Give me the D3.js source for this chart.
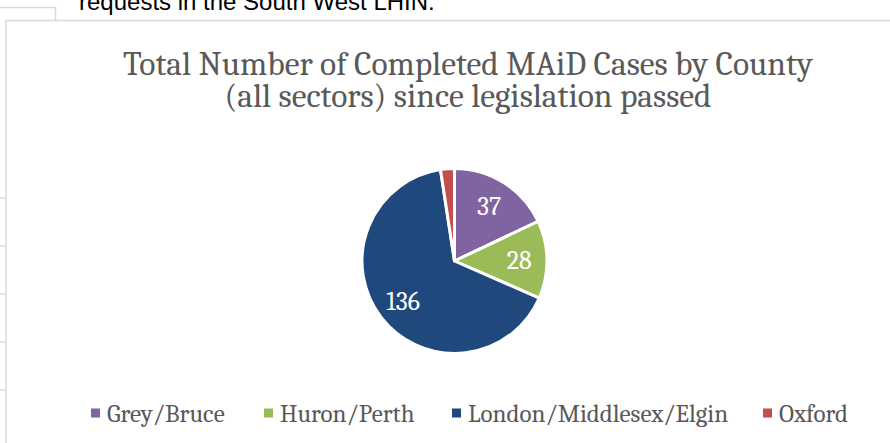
<!DOCTYPE html>
<html>
<head>
<meta charset="utf-8">
<script src="https://cdn.jsdelivr.net/npm/d3@7"></script>
<style>
  html, body { margin: 0; padding: 0; background: #fff; }
  svg { display: block; }
</style>
</head>
<body>
<div id="chart"></div>
<script>
const counties = ["Grey/Bruce", "Huron/Perth", "London/Middlesex/Elgin", "Oxford"];
const cases = [37, 28, 136, 5];
const colours = ["#8064A2", "#9BBB59", "#1F497D", "#C0504D"];
const showLabel = [true, true, true, false];
const titleLines = ["Total Number of Completed MAiD Cases by County", "(all sectors) since legislation passed"];

const W = 890, H = 443;
const serif = "Cambria, 'Liberation Serif', serif";

const svg = d3.select("#chart").append("svg")
  .attr("width", W)
  .attr("height", H);

// bits of the surrounding document
const lineCol = "#d9d9d9";
svg.append("path")
  .attr("d", "M0,7.5H55.5V20")
  .attr("fill", "none").attr("stroke", lineCol).attr("stroke-width", 1.5);
svg.append("path")
  .attr("d", "M6,443V20.5H890")
  .attr("fill", "none").attr("stroke", lineCol).attr("stroke-width", 1.5);
[198, 246, 294, 342, 390].forEach(y => {
  svg.append("line")
    .attr("x1", 0).attr("x2", 6).attr("y1", y).attr("y2", y)
    .attr("stroke", lineCol).attr("stroke-width", 1.5);
});

svg.append("text")
  .text("requests in the South West LHIN.")
  .attr("x", 79)
  .attr("y", 10)
  .style("font-family", "'Liberation Sans', Arial, sans-serif")
  .style("font-size", "24px")
  .attr("fill", "#000");

// title
svg.selectAll(".title")
  .data(titleLines)
  .enter()
  .append("text")
  .attr("class", "title")
  .text(d => d)
  .attr("x", 468)
  .attr("y", (d, i) => 75 + i * 32)
  .attr("text-anchor", "middle")
  .style("font-family", serif)
  .style("font-size", "33.5px")
  .attr("fill", "#595959");

// pie
const cx = 454.5, cy = 261, r = 92.5;
const data = counties.map((c, i) => ({ name: c, value: cases[i], colour: colours[i], label: showLabel[i] }));

const pie = d3.pie().sort(null).value(d => d.value);
const arc = d3.arc().innerRadius(0).outerRadius(r);
const labelArc = d3.arc().innerRadius(r * 0.7).outerRadius(r * 0.7);

const g = svg.append("g").attr("transform", `translate(${cx},${cy})`);

g.selectAll("path")
  .data(pie(data))
  .enter()
  .append("path")
  .attr("d", arc)
  .attr("fill", d => d.data.colour)
  .attr("stroke", "#fff")
  .attr("stroke-width", 3)
  .attr("stroke-linejoin", "round");

g.selectAll(".lbl")
  .data(pie(data).filter(d => d.data.label))
  .enter()
  .append("text")
  .attr("class", "lbl")
  .text(d => d.data.value)
  .attr("transform", d => `translate(${labelArc.centroid(d)})`)
  .attr("text-anchor", "middle")
  .attr("dy", "0.35em")
  .style("font-family", serif)
  .style("font-size", "26px")
  .attr("fill", "#fff");

// legend
const legendX = [91, 264, 452, 763];
const legend = svg.append("g").attr("id", "legend");
const items = legend.selectAll("g")
  .data(data)
  .enter()
  .append("g")
  .attr("transform", (d, i) => `translate(${legendX[i]}, 413)`);

items.append("rect")
  .attr("x", 0).attr("y", -4.5)
  .attr("width", 9).attr("height", 9)
  .attr("fill", d => d.colour);

items.append("text")
  .text(d => d.name)
  .attr("x", 16)
  .attr("y", 8.5)
  .style("font-family", serif)
  .style("font-size", "25px")
  .attr("fill", "#595959");
</script>
</body>
</html>
